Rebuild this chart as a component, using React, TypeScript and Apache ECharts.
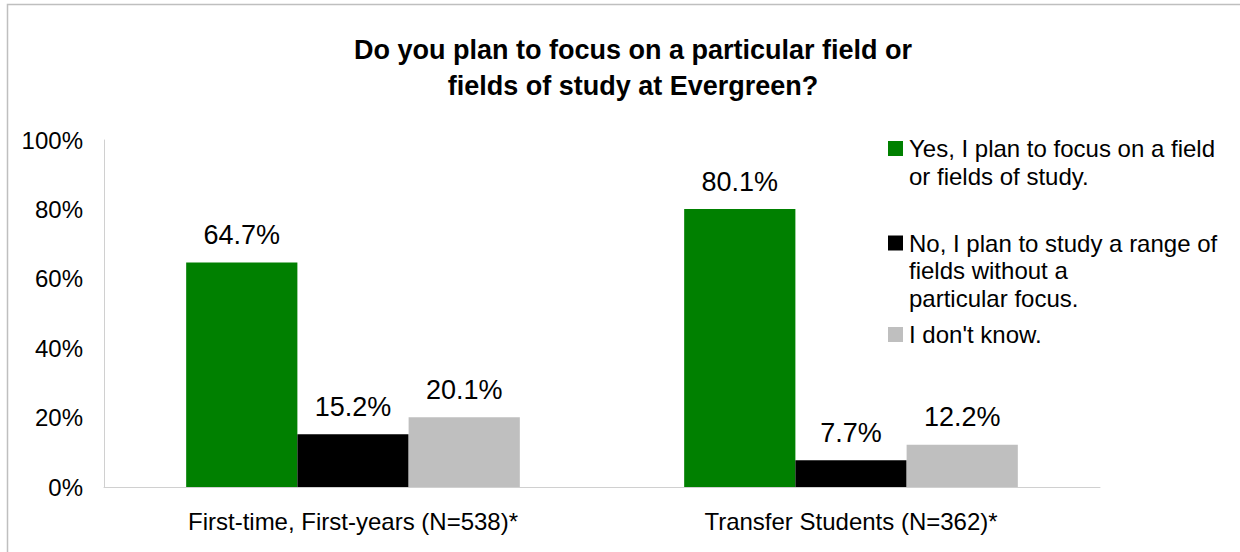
import React, { useEffect, useRef } from "react";
import * as echarts from "echarts";

const categories = ["First-time, First-years (N=538)*", "Transfer Students (N=362)*"];
const seriesNames = [
  "Yes, I plan to focus on a field\nor fields of study.",
  "No, I plan to study a range of\nfields without a\nparticular focus.",
  "I don't know.",
];
const yesValues = [64.7, 80.1];
const noValues = [15.2, 7.7];
const dontKnowValues = [20.1, 12.2];
const colors = ["#008000", "#000000", "#BFBFBF"];
const yTicks = [0, 20, 40, 60, 80, 100];

const FONT = "'Liberation Sans', Arial, sans-serif";

export default function App() {
  const ref = useRef<HTMLDivElement>(null);
  useEffect(() => {
    document.body.style.margin = "0";
    if (!ref.current) return;
    const chart = echarts.init(ref.current, null, { renderer: "svg" });
    const values = [yesValues, noValues, dontKnowValues];
    const lineH = 27.5;
    const legendIconCenters = [148.5, 243, 334.5];
    const legendGraphics: any[] = [];
    seriesNames.forEach((name, i) => {
      const cy = legendIconCenters[i];
      legendGraphics.push({
        type: "rect",
        shape: { x: 888, y: cy - 7.5, width: 15, height: 15 },
        style: { fill: colors[i] },
        silent: true,
      });
      legendGraphics.push({
        type: "text",
        x: 909,
        y: cy - lineH / 2,
        style: {
          text: name,
          fontFamily: FONT,
          fontSize: 24,
          fill: "#000",
          lineHeight: lineH,
          verticalAlign: "top",
          align: "left",
        },
        silent: true,
      });
    });
    chart.setOption({
      animation: false,
      textStyle: { fontFamily: FONT },
      title: {
        text: "Do you plan to focus on a particular field or\nfields of study at Evergreen?",
        left: 628,
        textAlign: "center",
        top: 27,
        textStyle: { fontFamily: FONT, fontSize: 27, fontWeight: "bold", color: "#000", lineHeight: 36 },
      },
      graphic: [
        {
          type: "rect",
          shape: { x: 7.5, y: 4.5, width: 1400, height: 700 },
          style: { fill: "none", stroke: "#BFBFBF", lineWidth: 1.5 },
          silent: true,
        },
        ...legendGraphics,
      ],
      grid: { left: 104, right: 140, top: 140, bottom: 65 },
      xAxis: {
        type: "category",
        data: categories,
        axisLine: { lineStyle: { color: "#D0D0D0", width: 1 } },
        axisTick: { show: false },
        axisLabel: { fontFamily: FONT, fontSize: 24, color: "#000", margin: 22 },
      },
      yAxis: {
        type: "value",
        min: 0,
        max: 100,
        interval: 20,
        axisLine: { show: true, lineStyle: { color: "#D0D0D0", width: 1 } },
        axisTick: { show: false },
        splitLine: { show: false },
        axisLabel: {
          fontFamily: FONT,
          fontSize: 24,
          color: "#000",
          margin: 21,
          formatter: (v: number) => (yTicks.includes(v) ? v + "%" : ""),
        },
      },
      series: seriesNames.map((name, i) => ({
        name,
        type: "bar",
        data: values[i],
        barGap: "0%",
        barCategoryGap: "33%",
        itemStyle: { color: colors[i] },
        label: {
          show: true,
          position: "top",
          distance: 14,
          fontFamily: FONT,
          fontSize: 27,
          color: "#000",
          formatter: (p: any) => p.value.toFixed(1) + "%",
        },
      })),
    });
    return () => chart.dispose();
  }, []);
  return <div ref={ref} style={{ width: 1240, height: 552 }} />;
}
